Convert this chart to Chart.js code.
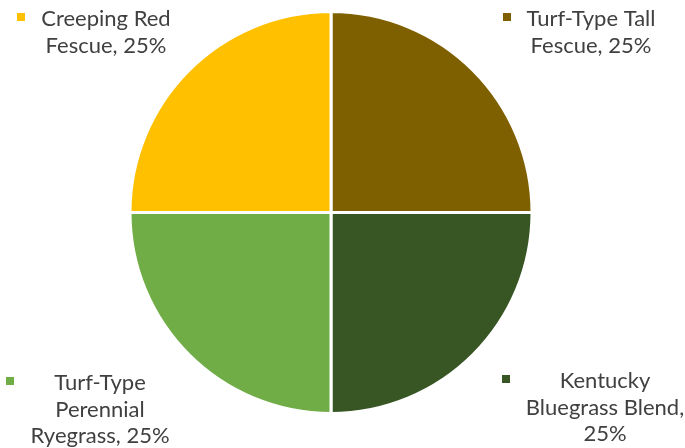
<!DOCTYPE html>
<html>
<head>
<meta charset="utf-8">
<script src="https://cdn.jsdelivr.net/npm/chart.js@4"></script>
<style>
  html, body { margin: 0; padding: 0; background: #fff; }
  #wrap { width: 685px; height: 448px; position: relative; }
</style>
</head>
<body>
<div id="wrap"><canvas id="c" width="685" height="448"></canvas></div>
<script>
const categories = ['Turf-Type Tall Fescue', 'Kentucky Bluegrass Blend', 'Turf-Type Perennial Ryegrass', 'Creeping Red Fescue'];
const values = [25, 25, 25, 25];
const colors = ['#7F6000', '#375623', '#70AD47', '#FFC000'];
const labelLines = [
  ['Turf-Type Tall', 'Fescue, 25%'],
  ['Kentucky', 'Bluegrass Blend,', '25%'],
  ['Turf-Type', 'Perennial', 'Ryegrass, 25%'],
  ['Creeping Red', 'Fescue, 25%']
];

// label layout (text block centre x, first baseline y), relative to canvas
const labelLayout = [
  { cx: 591, y: 26 },
  { cx: 605, y: 388 },
  { cx: 100, y: 390 },
  { cx: 106, y: 26 }
];

const FONT = '22px Lato, "Open Sans", sans-serif';
const LINE_H = 26.5;

const labelPlugin = {
  id: 'outsideLabels',
  afterDatasetsDraw(chart) {
    const ctx = chart.ctx;
    const meta = chart.getDatasetMeta(0);
    ctx.save();
    ctx.font = FONT;
    ctx.textBaseline = 'alphabetic';
    ctx.textAlign = 'center';
    meta.data.forEach((arc, i) => {
      const lines = labelLines[i];
      const L = labelLayout[i];
      let maxW = 0;
      lines.forEach(t => { maxW = Math.max(maxW, ctx.measureText(t).width); });
      ctx.fillStyle = '#404040';
      lines.forEach((t, k) => ctx.fillText(t, L.cx, L.y + k * LINE_H));
      // legend key square
      ctx.fillStyle = colors[i];
      const mx = L.cx - maxW / 2 - 24;
      ctx.fillRect(Math.round(mx), Math.round(L.y - 13), 8, 8);
    });
    ctx.restore();
  }
};

new Chart(document.getElementById('c'), {
  type: 'pie',
  data: {
    labels: categories,
    datasets: [{
      data: values,
      backgroundColor: colors,
      borderColor: '#ffffff',
      borderWidth: 3
    }]
  },
  options: {
    responsive: false,
    animation: false,
    layout: { padding: { top: 10, bottom: 33, left: 0, right: 23 } },
    plugins: {
      legend: { display: false },
      tooltip: { enabled: false }
    }
  },
  plugins: [labelPlugin]
});
</script>
</body>
</html>
